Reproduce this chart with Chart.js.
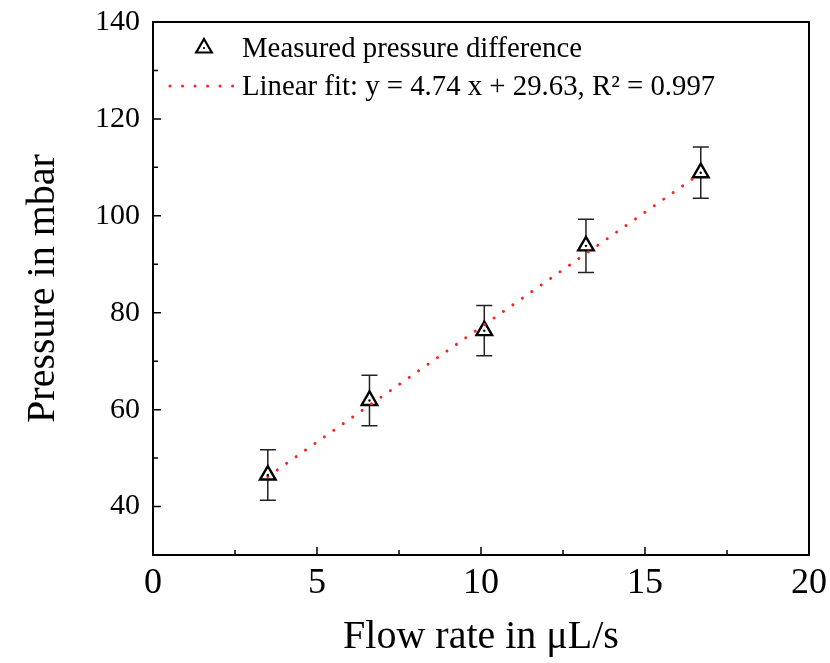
<!DOCTYPE html>
<html>
<head>
<meta charset="utf-8">
<script src="https://cdn.jsdelivr.net/npm/chart.js@4.4.1/dist/chart.umd.min.js"></script>
<style>
  html, body { margin: 0; padding: 0; background: #fff; }
  #wrap { width: 830px; height: 663px; }
</style>
</head>
<body>
<div id="wrap"><canvas id="c" width="830" height="663"></canvas></div>
<script>
// ---- data ----
const flowRate = [3.5, 6.6, 10.1, 13.2, 16.7];          // µL/s
const pressure = [46.5, 61.9, 76.3, 93.8, 108.9];       // mbar
const pressureErr = [5.2, 5.2, 5.2, 5.5, 5.3];          // mbar (±)
const fitX = [3.5, 16.7];
const fitY = [46.2, 108.8];
const xTicks = [0, 5, 10, 15, 20];
const xMinorTicks = [2.5, 7.5, 12.5, 17.5];
const yTicks = [40, 60, 80, 100, 120, 140];
const yMinorTicks = [50, 70, 90, 110, 130];
const legendLabels = ['Measured pressure difference', 'Linear fit: y = 4.74 x + 29.63, R² = 0.997'];

const SERIF = "'Liberation Serif', 'Times New Roman', serif";

const framePlugin = {
  id: 'frame',
  beforeDatasetsDraw(chart) {
    const ctx = chart.ctx, xs = chart.scales.x, ys = chart.scales.y;
    ctx.save();
    ctx.strokeStyle = '#222';
    ctx.lineWidth = 1.5;
    pressure.forEach((v, i) => {
      const px = xs.getPixelForValue(flowRate[i]);
      const top = ys.getPixelForValue(v + pressureErr[i]);
      const bot = ys.getPixelForValue(v - pressureErr[i]);
      ctx.beginPath();
      ctx.moveTo(px, top); ctx.lineTo(px, bot);
      ctx.moveTo(px - 8, top); ctx.lineTo(px + 8, top);
      ctx.moveTo(px - 8, bot); ctx.lineTo(px + 8, bot);
      ctx.stroke();
    });
    ctx.restore();
  },
  afterDatasetsDraw(chart) {
    const ctx = chart.ctx, xs = chart.scales.x, ys = chart.scales.y;
    const a = chart.chartArea;
    ctx.save();
    // center dots of markers
    ctx.fillStyle = '#000';
    pressure.forEach((v, i) => {
      ctx.beginPath();
      ctx.arc(xs.getPixelForValue(flowRate[i]), ys.getPixelForValue(v), 1.2, 0, Math.PI * 2);
      ctx.fill();
    });
    // ticks inside
    ctx.strokeStyle = '#000';
    ctx.lineWidth = 1.5;
    ctx.beginPath();
    xTicks.forEach(t => { const p = xs.getPixelForValue(t); ctx.moveTo(p, a.bottom); ctx.lineTo(p, a.bottom - 8); });
    xMinorTicks.forEach(t => { const p = xs.getPixelForValue(t); ctx.moveTo(p, a.bottom); ctx.lineTo(p, a.bottom - 5); });
    yTicks.forEach(t => { const p = ys.getPixelForValue(t); ctx.moveTo(a.left, p); ctx.lineTo(a.left + 8, p); });
    yMinorTicks.forEach(t => { const p = ys.getPixelForValue(t); ctx.moveTo(a.left, p); ctx.lineTo(a.left + 5, p); });
    ctx.stroke();
    // frame
    ctx.lineWidth = 2;
    ctx.strokeRect(a.left, a.top, a.right - a.left, a.bottom - a.top);
    // legend
    const lx = 204, ly1 = 48, ly2 = 86;
    ctx.lineWidth = 2.2;
    ctx.strokeStyle = '#000';
    ctx.fillStyle = '#fff';
    Chart.helpers.drawPoint(ctx, { pointStyle: 'triangle', radius: 9, borderWidth: 2.2 }, lx, ly1);
    ctx.fillStyle = '#000';
    ctx.beginPath(); ctx.arc(lx, ly1, 1.1, 0, Math.PI * 2); ctx.fill();
    ctx.strokeStyle = '#ff2020';
    ctx.lineWidth = 3;
    ctx.lineCap = 'round';
    ctx.setLineDash([0.01, 12.5]);
    ctx.beginPath(); ctx.moveTo(170, ly2); ctx.lineTo(233, ly2); ctx.stroke();
    ctx.setLineDash([]);
    ctx.fillStyle = '#000';
    ctx.font = '28.8px ' + SERIF;
    ctx.textBaseline = 'middle';
    ctx.textAlign = 'left';
    ctx.fillText(legendLabels[0], 242, ly1 + 1);
    ctx.fillText(legendLabels[1], 242, ly2 + 1);
    ctx.restore();
  }
};

new Chart(document.getElementById('c'), {
  type: 'scatter',
  data: {
    datasets: [
      {
        type: 'line',
        label: legendLabels[1],
        data: fitX.map((x, i) => ({ x, y: fitY[i] })),
        borderColor: '#ff2020',
        borderWidth: 3,
        borderDash: [0.01, 11.5],
        borderCapStyle: 'round',
        pointRadius: 0,
        fill: false,
        order: 0
      },
      {
        label: legendLabels[0],
        data: flowRate.map((x, i) => ({ x, y: pressure[i] })),
        pointStyle: 'triangle',
        pointRadius: 9,
        pointBorderWidth: 2.4,
        pointBorderColor: '#000',
        pointBackgroundColor: '#fff',
        order: 1
      }
    ]
  },
  options: {
    responsive: false,
    animation: false,
    events: [],
    layout: { padding: { left: 0, right: 21, top: 22, bottom: 0 } },
    plugins: { legend: { display: false }, tooltip: { enabled: false } },
    scales: {
      x: {
        type: 'linear',
        min: 0, max: 20,
        afterBuildTicks: s => { s.ticks = xTicks.map(v => ({ value: v })); },
        afterFit: s => { s.height = 108; s.paddingLeft = 0; s.paddingRight = 0; },
        grid: { display: false, drawTicks: false },
        border: { display: false },
        ticks: { color: '#000', font: { family: SERIF, size: 36 }, padding: 7, maxRotation: 0 },
        title: { display: true, text: 'Flow rate in μL/s', color: '#000',
                 font: { family: SERIF, size: 40, lineHeight: 1 }, padding: { top: 0, bottom: 6 } }
      },
      y: {
        type: 'linear',
        min: 30, max: 140,
        afterBuildTicks: s => { s.ticks = yTicks.map(v => ({ value: v })); },
        afterFit: s => { s.width = 153; s.paddingTop = 0; s.paddingBottom = 0; },
        grid: { display: false, drawTicks: false },
        border: { display: false },
        ticks: { color: '#000', font: { family: SERIF, size: 30 }, padding: 13 },
        title: { display: true, text: 'Pressure in mbar', color: '#000',
                 font: { family: SERIF, size: 40, lineHeight: 1 }, padding: { top: 23, bottom: 0 } }
      }
    }
  },
  plugins: [framePlugin]
});
</script>
</body>
</html>
